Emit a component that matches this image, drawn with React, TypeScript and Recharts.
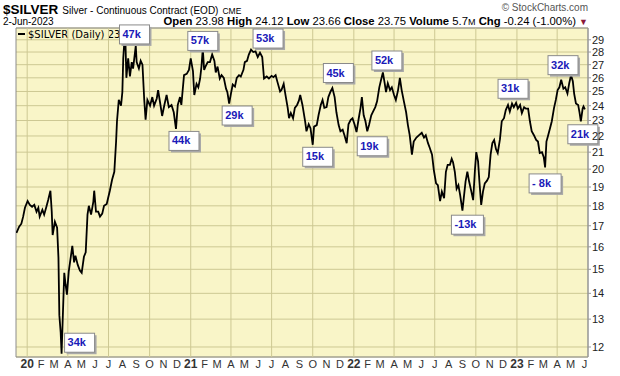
import { LineChart, Line, XAxis, YAxis, CartesianGrid, ReferenceDot, ReferenceArea, ReferenceLine } from 'recharts'

// daily closes (approx. every few sessions)
const silverCloses: [string, number][] = [
  ['2019-12-08', 16.65], ['2019-12-14', 16.95], ['2019-12-19', 17.1], ['2019-12-23', 17.45], ['2019-12-27', 17.9],
  ['2020-01-02', 18.25], ['2020-01-07', 18.05], ['2020-01-12', 17.95], ['2020-01-17', 18.05], ['2020-01-22', 17.7],
  ['2020-01-26', 17.9], ['2020-01-29', 17.45], ['2020-02-04', 17.8], ['2020-02-08', 17.55], ['2020-02-13', 17.95],
  ['2020-02-17', 18.3], ['2020-02-22', 18.8], ['2020-02-25', 17.7], ['2020-02-27', 16.55], ['2020-03-03', 17.2],
  ['2020-03-08', 16.9], ['2020-03-11', 15.5], ['2020-03-13', 13.15], ['2020-03-16', 12.5], ['2020-03-18', 11.77],
  ['2020-03-24', 14.85], ['2020-03-27', 14.35], ['2020-03-30', 13.95], ['2020-04-03', 14.9], ['2020-04-08', 15.6],
  ['2020-04-11', 16.05], ['2020-04-15', 15.3], ['2020-04-18', 15.6], ['2020-04-23', 15.2], ['2020-04-28', 14.95],
  ['2020-05-02', 14.85], ['2020-05-07', 15.55], ['2020-05-11', 15.75], ['2020-05-15', 17.55], ['2020-05-18', 18.0],
  ['2020-05-23', 17.55], ['2020-05-28', 18.2], ['2020-05-30', 18.8], ['2020-06-03', 17.7], ['2020-06-08', 17.7],
  ['2020-06-12', 17.45], ['2020-06-17', 17.6], ['2020-06-21', 18.0], ['2020-06-27', 18.1], ['2020-06-30', 18.4],
  ['2020-07-04', 18.8], ['2020-07-09', 19.4], ['2020-07-14', 19.85], ['2020-07-18', 21.65], ['2020-07-20', 22.95],
  ['2020-07-24', 24.4], ['2020-07-29', 24.0], ['2020-08-01', 24.95], ['2020-08-03', 27.5], ['2020-08-05', 28.6],
  ['2020-08-08', 28.7], ['2020-08-10', 26.0], ['2020-08-14', 27.5], ['2020-08-18', 26.1], ['2020-08-22', 27.2],
  ['2020-08-25', 26.7], ['2020-08-31', 28.5], ['2020-09-02', 27.2], ['2020-09-07', 26.7], ['2020-09-11', 27.3],
  ['2020-09-15', 27.0], ['2020-09-19', 24.4], ['2020-09-22', 23.05], ['2020-09-26', 24.4], ['2020-10-02', 24.0],
  ['2020-10-07', 24.6], ['2020-10-11', 24.0], ['2020-10-17', 24.5], ['2020-10-20', 25.1], ['2020-10-25', 24.1],
  ['2020-10-29', 23.3], ['2020-11-03', 24.05], ['2020-11-08', 24.75], ['2020-11-13', 23.9], ['2020-11-19', 24.05],
  ['2020-11-24', 23.55], ['2020-11-29', 22.45], ['2020-12-03', 24.05], ['2020-12-08', 24.6], ['2020-12-11', 24.05],
  ['2020-12-17', 26.2], ['2020-12-23', 26.3], ['2020-12-28', 26.6], ['2021-01-01', 27.5], ['2021-01-06', 26.5],
  ['2021-01-09', 24.75], ['2021-01-14', 25.55], ['2021-01-18', 25.3], ['2021-01-22', 25.95], ['2021-01-25', 26.85],
  ['2021-01-28', 28.25], ['2021-01-31', 26.6], ['2021-02-03', 26.85], ['2021-02-08', 27.2], ['2021-02-13', 27.2],
  ['2021-02-18', 27.8], ['2021-02-23', 27.3], ['2021-02-26', 26.4], ['2021-03-02', 26.85], ['2021-03-07', 25.95],
  ['2021-03-11', 26.2], ['2021-03-16', 26.0], ['2021-03-21', 25.2], ['2021-03-24', 24.95], ['2021-03-28', 24.15],
  ['2021-04-01', 24.85], ['2021-04-05', 25.5], ['2021-04-10', 25.35], ['2021-04-14', 26.0], ['2021-04-19', 26.2],
  ['2021-04-23', 26.1], ['2021-04-29', 26.6], ['2021-05-02', 27.2], ['2021-05-07', 27.3], ['2021-05-11', 27.8],
  ['2021-05-16', 28.2], ['2021-05-21', 28.0], ['2021-05-26', 28.05], ['2021-05-31', 27.6], ['2021-06-05', 27.95],
  ['2021-06-10', 27.6], ['2021-06-14', 25.95], ['2021-06-20', 26.1], ['2021-06-25', 25.95], ['2021-07-01', 26.15],
  ['2021-07-05', 26.05], ['2021-07-10', 26.2], ['2021-07-14', 25.7], ['2021-07-20', 25.0], ['2021-07-23', 25.1],
  ['2021-07-28', 25.55], ['2021-08-01', 24.75], ['2021-08-06', 23.85], ['2021-08-09', 23.15], ['2021-08-13', 23.5],
  ['2021-08-18', 23.15], ['2021-08-22', 23.85], ['2021-08-27', 24.05], ['2021-08-31', 24.35], ['2021-09-03', 24.75],
  ['2021-09-08', 24.05], ['2021-09-14', 22.95], ['2021-09-17', 22.3], ['2021-09-22', 22.75], ['2021-09-26', 22.5],
  ['2021-10-01', 21.45], ['2021-10-04', 22.6], ['2021-10-10', 22.7], ['2021-10-14', 23.35], ['2021-10-19', 24.05],
  ['2021-10-23', 24.4], ['2021-10-27', 23.85], ['2021-11-01', 23.9], ['2021-11-05', 24.6], ['2021-11-10', 25.0],
  ['2021-11-14', 25.25], ['2021-11-19', 24.6], ['2021-11-23', 23.55], ['2021-11-28', 22.7], ['2021-12-02', 22.3],
  ['2021-12-07', 22.4], ['2021-12-11', 22.05], ['2021-12-16', 21.55], ['2021-12-20', 22.75], ['2021-12-25', 23.05],
  ['2021-12-29', 23.15], ['2022-01-03', 22.7], ['2022-01-07', 22.25], ['2022-01-12', 23.15], ['2022-01-16', 23.85],
  ['2022-01-19', 24.6], ['2022-01-23', 23.35], ['2022-01-27', 22.95], ['2022-01-31', 22.3], ['2022-02-04', 22.7],
  ['2022-02-09', 23.35], ['2022-02-13', 23.6], ['2022-02-18', 23.9], ['2022-02-22', 24.3], ['2022-02-27', 25.3],
  ['2022-03-03', 25.85], ['2022-03-07', 26.4], ['2022-03-11', 25.6], ['2022-03-14', 24.95], ['2022-03-18', 25.6],
  ['2022-03-23', 25.1], ['2022-03-27', 25.3], ['2022-04-01', 24.75], ['2022-04-05', 24.4], ['2022-04-10', 25.1],
  ['2022-04-14', 26.0], ['2022-04-18', 25.1], ['2022-04-23', 24.3], ['2022-04-28', 23.55], ['2022-05-02', 22.7],
  ['2022-05-06', 22.05], ['2022-05-11', 20.85], ['2022-05-15', 21.65], ['2022-05-21', 21.9], ['2022-05-27', 22.05],
  ['2022-06-02', 22.2], ['2022-06-07', 21.9], ['2022-06-11', 22.05], ['2022-06-16', 21.55], ['2022-06-20', 21.25],
  ['2022-06-25', 20.85], ['2022-06-29', 19.95], ['2022-07-04', 19.2], ['2022-07-08', 19.1], ['2022-07-13', 18.25],
  ['2022-07-17', 18.75], ['2022-07-22', 18.4], ['2022-07-26', 19.85], ['2022-07-30', 20.25], ['2022-08-04', 20.25],
  ['2022-08-08', 20.6], ['2022-08-11', 20.4], ['2022-08-15', 19.85], ['2022-08-19', 18.9], ['2022-08-23', 19.1],
  ['2022-08-27', 18.55], ['2022-09-01', 17.75], ['2022-09-04', 18.4], ['2022-09-08', 19.3], ['2022-09-12', 19.85],
  ['2022-09-16', 19.3], ['2022-09-21', 18.75], ['2022-09-25', 18.3], ['2022-09-29', 19.95], ['2022-10-02', 21.0],
  ['2022-10-06', 20.45], ['2022-10-09', 19.3], ['2022-10-13', 18.05], ['2022-10-17', 18.75], ['2022-10-21', 19.2],
  ['2022-10-26', 19.35], ['2022-10-30', 19.55], ['2022-11-03', 20.85], ['2022-11-07', 21.55], ['2022-11-11', 21.75],
  ['2022-11-15', 21.2], ['2022-11-19', 20.95], ['2022-11-24', 21.8], ['2022-11-28', 22.95], ['2022-12-03', 23.15],
  ['2022-12-07', 23.7], ['2022-12-12', 24.05], ['2022-12-16', 23.6], ['2022-12-21', 24.15], ['2022-12-25', 23.9],
  ['2022-12-30', 24.2], ['2023-01-03', 23.8], ['2023-01-08', 24.05], ['2023-01-12', 23.5], ['2023-01-17', 23.9],
  ['2023-01-21', 23.8], ['2023-01-26', 23.8], ['2023-01-30', 22.95], ['2023-02-03', 22.3], ['2023-02-08', 22.05],
  ['2023-02-13', 21.75], ['2023-02-17', 21.65], ['2023-02-21', 20.95], ['2023-02-26', 21.0], ['2023-03-02', 20.7],
  ['2023-03-05', 20.1], ['2023-03-08', 21.65], ['2023-03-11', 21.95], ['2023-03-16', 22.5], ['2023-03-20', 22.95],
  ['2023-03-25', 23.85], ['2023-03-29', 24.4], ['2023-04-02', 25.1], ['2023-04-06', 25.3], ['2023-04-10', 25.85],
  ['2023-04-15', 25.2], ['2023-04-19', 25.3], ['2023-04-24', 24.85], ['2023-04-28', 25.6], ['2023-05-02', 26.2],
  ['2023-05-06', 25.75], ['2023-05-09', 24.85], ['2023-05-13', 24.15], ['2023-05-18', 24.05], ['2023-05-21', 23.55],
  ['2023-05-24', 22.95], ['2023-05-28', 23.8], ['2023-05-30', 23.95], ['2023-06-02', 23.75],
]

const priceTicks = [12, 13, 14, 15, 16, 17, 18, 19, 20, 21, 22, 23, 24, 25, 26, 27, 28, 29]
const monthLetters = ['J', 'F', 'M', 'A', 'M', 'J', 'J', 'A', 'S', 'O', 'N', 'D']

// volume notes pinned to swing highs / lows
const flags: [string, number, string][] = [
  ['2020-03-18', 11.77, '34k'], ['2020-08-08', 28.7, '47k'], ['2020-11-29', 22.45, '44k'],
  ['2021-01-28', 28.25, '57k'], ['2021-03-28', 24.15, '29k'], ['2021-05-16', 28.2, '53k'],
  ['2021-10-01', 21.45, '15k'], ['2021-11-14', 25.25, '45k'], ['2022-01-31', 22.3, '19k'],
  ['2022-03-07', 26.4, '52k'], ['2022-09-01', 17.75, '-13k'], ['2022-12-30', 24.2, '31k'],
  ['2023-03-05', 20.1, '- 8k'], ['2023-05-02', 26.2, '32k'], ['2023-05-24', 22.95, '21k'],
]
const flagOffsets: [number, number][] = [
  [18, -11], [9, -9], [8, 12], [0, -8], [8, 12], [17, -11], [5, 12], [6, -15], [5, 15],
  [4, -12], [5, 14], [-3, -14], [0, 16], [-8, -10], [2, 13],
]

const FONT = '"Liberation Sans", Arial, sans-serif'
const GRID = '#cdc893'
const toTs = (s: string) => {
  const [y, m, d] = s.split('-').map(Number)
  return Date.UTC(y, m - 1, d)
}
const table = silverCloses.map(([d, c]) => ({ ts: toTs(d), close: c }))

const monthTicks: number[] = []
for (let y = 2020; y <= 2023; y++) {
  for (let m = 0; m < 12; m++) {
    if (y === 2023 && m > 5) break
    monthTicks.push(Date.UTC(y, m, 1))
  }
}
const quarterTicks = monthTicks.filter((t) => new Date(t).getUTCMonth() % 3 === 0)

const xDomain = [Date.UTC(2019, 11, 7), Date.UTC(2023, 5, 9)]
const yDomain = [11.66, 30]

const MonthTick = (props: any) => {
  const { x, y, payload } = props
  const dt = new Date(payload.value)
  const m = dt.getUTCMonth()
  const isYear = m === 0
  return (
    <text
      x={x}
      y={y + 11}
      textAnchor="middle"
      fontSize={isYear ? 12 : 11}
      fontWeight={isYear ? 'bold' : 'normal'}
      fill="#333"
      fontFamily={FONT}
    >
      {isYear ? String(dt.getUTCFullYear()).slice(2) : monthLetters[m]}
    </text>
  )
}

const Flag = ({ cx, cy, text, dx, dy }: any) => {
  const w = text.length > 3 ? 32 : 30
  const h = 19
  const bx = cx + dx - w / 2
  const by = cy + dy - h / 2
  return (
    <g>
      <rect x={bx + 2} y={by + 2} width={w} height={h} fill="#a8a8a8" />
      <rect x={bx} y={by} width={w} height={h} fill="#ffffff" stroke="#8a8a8a" strokeWidth={1} />
      <text x={bx + 3} y={by + 13} fill="#1a1ab8" fontWeight="bold" fontSize={11} fontFamily={FONT}>
        {text}
      </text>
    </g>
  )
}

export default function App() {
  return (
    <div style={{ position: 'relative', width: 620, height: 376, background: '#fff' }}>
      <style>{'body{margin:0}'}</style>
      <LineChart
        width={620}
        height={376}
        data={table}
        margin={{ top: 28, right: 0, bottom: 0, left: 16 }}
      >
        <CartesianGrid fill="#f9f5c8" stroke={GRID} vertical={false} />
        {quarterTicks.map((t) => (
          <ReferenceLine key={t} x={t} stroke={GRID} strokeWidth={1} />
        ))}
        <XAxis
          dataKey="ts"
          type="number"
          domain={xDomain}
          allowDataOverflow
          ticks={monthTicks}
          interval={0}
          tick={<MonthTick />}
          tickLine={false}
          axisLine={false}
          tickSize={0}
          tickMargin={0}
          height={19}
        />
        <YAxis
          orientation="right"
          type="number"
          scale="log"
          domain={yDomain}
          allowDataOverflow
          ticks={priceTicks}
          interval={0}
          width={32}
          tickSize={3}
          tickMargin={1}
          axisLine={{ stroke: '#999' }}
          tickLine={{ stroke: '#999' }}
          tick={{ fontSize: 11, fill: '#222', fontFamily: FONT }}
        />
        <ReferenceArea
          x1={xDomain[0]}
          x2={xDomain[1]}
          y1={yDomain[0]}
          y2={yDomain[1]}
          fill="none"
          stroke="#8c8c8c"
          ifOverflow="visible"
        />
        <g>
          <line x1={18} x2={25} y1={34} y2={34} stroke="#000" strokeWidth={2} />
          <text x={28} y={38} fontSize={10} fontFamily="DejaVu Sans, Verdana, sans-serif" fill="#000">
            $SILVER (Daily) 23.75
          </text>
        </g>
        <Line
          type="linear"
          dataKey="close"
          stroke="#000"
          strokeWidth={1.8}
          dot={false}
          isAnimationActive={false}
        />
        {flags.map(([d, p, text], i) => (
          <ReferenceDot
            key={text + i}
            x={toTs(d)}
            y={p}
            ifOverflow="visible"
            shape={(sp: any) => (
              <Flag cx={sp.cx} cy={sp.cy} text={text} dx={flagOffsets[i][0]} dy={flagOffsets[i][1]} />
            )}
          />
        ))}
      </LineChart>
      <svg
        width={620}
        height={28}
        style={{ position: 'absolute', left: 0, top: 0, pointerEvents: 'none' }}
      >
        <text x={3} y={14} fontFamily={FONT} fill="#000">
          <tspan fontSize={13.5} fontWeight="bold">$SILVER</tspan>
          <tspan fontSize={10} dx={4}>Silver - Continuous Contract (EOD)</tspan>
          <tspan fontSize={8.5} dx={4}>CME</tspan>
        </text>
        <text x={3} y={25} fontSize={10} fontFamily={FONT} fill="#000">2-Jun-2023</text>
        <text x={588} y={11} fontSize={10} textAnchor="end" fontFamily={FONT} fill="#555">
          © StockCharts.com
        </text>
        <text x={588} y={25} fontSize={11.3} textAnchor="end" fontFamily={FONT} fill="#000">
          <tspan fontWeight="bold">Open</tspan> 23.98 <tspan fontWeight="bold">High</tspan> 24.12{' '}
          <tspan fontWeight="bold">Low</tspan> 23.66 <tspan fontWeight="bold">Close</tspan> 23.75{' '}
          <tspan fontWeight="bold">Volume</tspan> 5.7<tspan fontSize={9}>M</tspan>{' '}
          <tspan fontWeight="bold">Chg</tspan> -0.24 (-1.00%) <tspan fill="#8b1a3a" fontSize={9}>▼</tspan>
        </text>
      </svg>
    </div>
  )
}
